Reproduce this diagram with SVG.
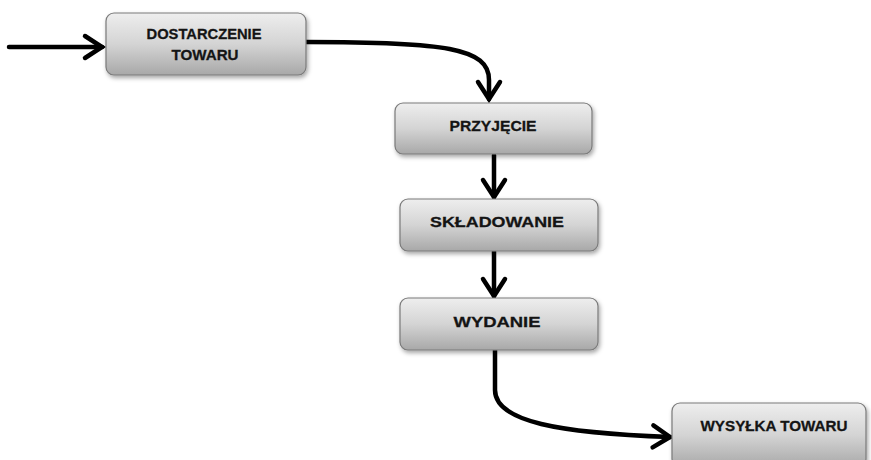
<svg xmlns="http://www.w3.org/2000/svg" width="871" height="460" viewBox="0 0 871 460">
  <style>
    .box { fill: url(#g); stroke: #7a7a7a; stroke-width: 1.2; filter: url(#sh); }
    .lbl { font-family: "Liberation Sans", Arial, sans-serif; font-weight: bold; font-size: 15.5px; fill: #141414; stroke: #141414; stroke-width: 0.3; text-anchor: middle; }
    .con { fill: none; stroke: #000; stroke-width: 4.5; stroke-linecap: round; stroke-linejoin: round; marker-end: url(#ah); }
  </style>
  <defs>
    <linearGradient id="g" x1="0" y1="0" x2="0" y2="1">
      <stop offset="0" stop-color="#eeeeee"/>
      <stop offset="0.5" stop-color="#d4d4d4"/>
      <stop offset="1" stop-color="#a8a8a8"/>
    </linearGradient>
    <filter id="sh" x="-10%" y="-20%" width="125%" height="150%">
      <feDropShadow dx="1.5" dy="2.5" stdDeviation="2" flood-color="#000" flood-opacity="0.35"/>
    </filter>
    <marker id="ah" markerUnits="userSpaceOnUse" markerWidth="30" markerHeight="30" viewBox="-22 -15 26 30" refX="0" refY="0" orient="auto">
      <path d="M-17,-11 L0,0 L-17,11" fill="none" stroke="#000" stroke-width="4.5" stroke-linecap="round" stroke-linejoin="miter"/>
    </marker>
  </defs>
  <rect width="871" height="460" fill="#fff"/>
  <g id="connectors">
    <path class="con" d="M9,47 L102,47"/>
    <path class="con" d="M306,42 C445,42 489,48 489,80 L489,99"/>
    <path class="con" d="M494,155 L494,197"/>
    <path class="con" d="M494,251 L494,296"/>
    <path class="con" d="M495,350 L495,390 C495,422 560,433 670,437"/>
  </g>
  <g id="n1">
    <rect class="box" x="106" y="13" width="200" height="62" rx="8"/>
    <text class="lbl" x="204" y="38.5" textLength="115" lengthAdjust="spacingAndGlyphs">DOSTARCZENIE</text>
    <text class="lbl" x="205" y="59.5" textLength="67" lengthAdjust="spacingAndGlyphs">TOWARU</text>
  </g>
  <g id="n2">
    <rect class="box" x="395" y="103" width="197" height="51" rx="8"/>
    <text class="lbl" x="493" y="130.5" textLength="87" lengthAdjust="spacingAndGlyphs">PRZYJĘCIE</text>
  </g>
  <g id="n3">
    <rect class="box" x="400" y="199" width="198" height="52" rx="8"/>
    <text class="lbl" x="497" y="226.5" textLength="134" lengthAdjust="spacingAndGlyphs">SKŁADOWANIE</text>
  </g>
  <g id="n4">
    <rect class="box" x="400" y="298" width="198" height="52" rx="8"/>
    <text class="lbl" x="497" y="326.5" textLength="87" lengthAdjust="spacingAndGlyphs">WYDANIE</text>
  </g>
  <g id="n5">
    <rect class="box" x="672" y="403" width="194" height="64" rx="8"/>
    <text class="lbl" x="774" y="430.5" textLength="147" lengthAdjust="spacingAndGlyphs">WYSYŁKA TOWARU</text>
  </g>
</svg>
